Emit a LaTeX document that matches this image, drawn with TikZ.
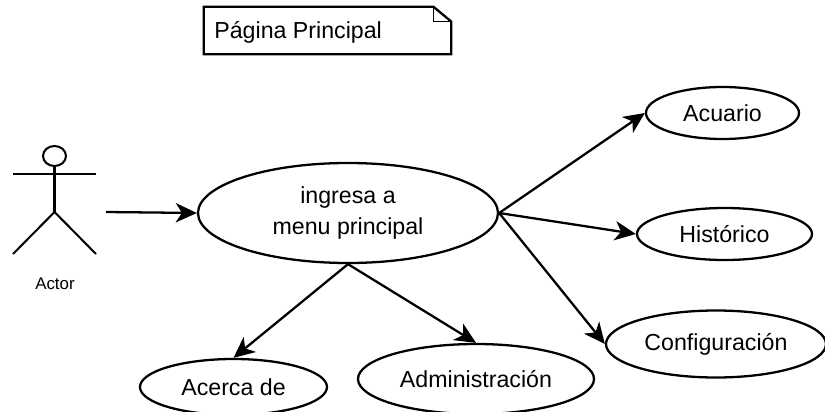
\documentclass[tikz,border=0pt]{standalone}
\usepackage{fontspec}
\setmainfont{Liberation Sans}
\usetikzlibrary{arrows, arrows.meta}
\usetikzlibrary{calc}
\usetikzlibrary{shapes.geometric}
\tikzset{
  usecase/.style={ellipse, draw, line width=1.3pt, inner sep=0pt, font=\fontsize{13.2}{15.5}\selectfont, align=center},
  link/.style={line width=1.3pt, -{Stealth[length=12pt, width=11pt, inset=3.5pt]}},
  stick/.style={line width=1.15pt}
}
\begin{document}
\begin{tikzpicture}[x=0.02cm, y=-0.02cm]
      \useasboundingbox (0,0) rectangle (825,412);

      % note
      \node[inner sep=0pt, minimum width=247*0.02cm, minimum height=47*0.02cm] (page) at (327.5,30.5) {};
      \node[font=\fontsize{13.2}{15.5}\selectfont, anchor=west, inner sep=0pt] (pagetext) at (214,32) {Página Principal};
      \draw[line width=1.3pt] (page.north west) -- ($(page.north east)+(-18,0)$) -- ($(page.north east)+(0,15)$) -- (page.south east) -- (page.south west) -- cycle;
      \draw[line width=0.5pt] ($(page.north east)+(-18,0)$) -- ($(page.north east)+(-18,15)$) -- ($(page.north east)+(0,15)$);

      % actor
      \node[ellipse, draw, stick, inner sep=0pt, minimum width=23*0.02cm, minimum height=20*0.02cm] (head) at (54.5,156) {};
      \coordinate (hip) at (54.5,212);
      \coordinate (armL) at (13,174);
      \coordinate (armR) at (96,174);
      \coordinate (footL) at (13,254);
      \coordinate (footR) at (96,254);
      \coordinate (start) at (106,212);
      \draw[stick] (head) -- (hip);
      \draw[stick] (armL) -- (armR);
      \draw[stick] (footL) -- (hip) -- (footR);
      \node[font=\fontsize{9.6}{11}\selectfont, inner sep=0pt] (actor) at (55,284) {Actor};

      % use cases
      \node[usecase, minimum width=300*0.02cm, minimum height=100*0.02cm] (menu) at (348,213) {ingresa a\\[2pt]menu principal};
      \node[usecase, minimum width=153*0.02cm, minimum height=52*0.02cm] (acuario) at (722.5,113) {Acuario};
      \node[usecase, minimum width=175*0.02cm, minimum height=52*0.02cm] (historico) at (724.5,234) {Histórico};
      \node[usecase, minimum width=220*0.02cm, minimum height=67*0.02cm] (config) at (716,344) {Configuración};
      \node[usecase, minimum width=187*0.02cm, minimum height=56*0.02cm] (acerca) at (233.5,387) {Acerca de};
      \node[usecase, minimum width=236*0.02cm, minimum height=70*0.02cm] (admin) at (476,379) {Administración};

      \draw[link] (start) -- (menu.west);
      \draw[link] (menu.east) -- (acuario.west);
      \draw[link] (menu.east) -- (historico.west);
      \draw[link] (menu.east) -- (config.west);
      \draw[link] (menu.south) -- (acerca.north);
      \draw[link] (menu.south) -- (admin.north);
    \end{tikzpicture}
\end{document}
